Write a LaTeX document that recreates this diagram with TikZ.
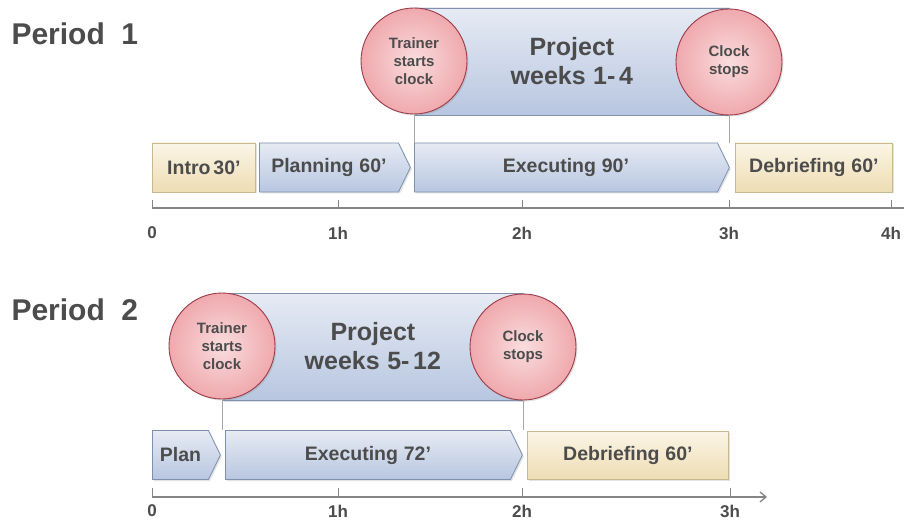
\documentclass[tikz,border=0pt]{standalone}
\usepackage{fontspec}
\setmainfont{Liberation Sans}
\usetikzlibrary{shapes.symbols,arrows.meta,shadows}
\definecolor{txt}{HTML}{4C4C4C}
\definecolor{bluetop}{HTML}{E6EBF4}
\definecolor{bluebot}{HTML}{B8C6E0}
\definecolor{blueedge}{HTML}{7F90AF}
\definecolor{beigetop}{HTML}{FBF5E6}
\definecolor{beigebot}{HTML}{EEDDB4}
\definecolor{beigeedge}{HTML}{C8B88E}
\definecolor{redouter}{HTML}{EFA9AE}
\definecolor{redinner}{HTML}{FADCDD}
\definecolor{rededge}{HTML}{9E3A46}
\definecolor{axisc}{HTML}{858585}
\definecolor{linec}{HTML}{A8A8A8}
\tikzset{
  shad/.style={drop shadow={opacity=0.22, shadow xshift=1.5pt, shadow yshift=-1.5pt}},
  boxtext/.style={text=txt, font=\bfseries\fontsize{19.5}{23}\selectfont},
  bluebox/.style={shape=rectangle, draw=blueedge, line width=0.8pt, top color=bluetop, bottom color=bluebot, inner sep=0pt, shad, boxtext},
  beigebox/.style={shape=rectangle, draw=beigeedge, line width=0.8pt, top color=beigetop, bottom color=beigebot, inner sep=0pt, minimum height=49, shad, boxtext},
  bluechev/.style={shape=signal, signal to=east, signal from=nowhere, signal pointer angle=128, draw=blueedge, line width=0.8pt, top color=bluetop, bottom color=bluebot, inner sep=0pt, minimum height=49, shad, boxtext},
  projbox/.style={bluebox, minimum height=107, align=center, font=\bfseries\fontsize{25}{29}\selectfont},
  clock/.style={circle, draw=rededge, line width=0.9pt, inner color=redinner, outer color=redouter, minimum size=106, inner sep=0pt, align=center, text=txt, font=\bfseries\fontsize{15}{18}\selectfont, shad},
  title/.style={text=txt, font=\bfseries\fontsize{30}{36}\selectfont, anchor=west},
  axlab/.style={text=txt, font=\bfseries\fontsize{17}{20}\selectfont},
  axline/.style={draw=axisc, line width=1.3pt},
  tick/.style={draw=axisc, line width=0.9pt},
  guide/.style={draw=linec, line width=0.9pt}
}
\begin{document}
\begin{tikzpicture}[x=1pt,y=-1pt]
\fill[white] (0,0) rectangle (904,521);
\useasboundingbox (0,0) rectangle (904,521);

% ---------- Period 1 ----------
\node[title] (p1) at (8,33.5) {Period\hspace{0.55em}1};

\node[projbox, minimum width=315, anchor=west] (proj1) at (414,61.5) {Project\\weeks\hspace{0.3em}1-\hspace{0.15em}4};

\node[beigebox, minimum width=103, anchor=west] (intro1) at (152,167.5) {Intro\hspace{0.15em}30’};
\node[bluechev, minimum width=151, anchor=west] (plan1) at (259,167.5) {Planning\hspace{0.3em}60’};
\node[bluechev, minimum width=315, anchor=west] (exec1) at (414,167.5) {Executing\hspace{0.3em}90’};
\node[beigebox, minimum width=157, anchor=west] (deb1) at (735,167.5) {Debriefing\hspace{0.3em}60’};

\node[clock] (start1) at (414,61) {Trainer\\starts\\clock};
\node[clock] (stop1) at (729,62) {Clock\\stops};

\draw[guide] (start1.south) -- (start1.south |- exec1.north);
\draw[guide] (stop1.south) -- (stop1.south |- exec1.north);

\coordinate (a1s) at (152,208);
\coordinate (a1e) at (916,208);
\draw[axline, -{Straight Barb[length=6pt,width=10pt]}] (a1s) -- (a1e);
\foreach \x/\l/\n in {152/0/a, 338/1h/b, 522/2h/c, 729/3h/d, 891/4h/e}{
  \draw[tick] (\x,200) -- (\x,208);
  \node[axlab] (l1\n) at (\x,233) {\l};
}

% ---------- Period 2 ----------
\node[title] (p2) at (8,310) {Period\hspace{0.55em}2};

\node[projbox, minimum width=301, anchor=west] (proj2) at (222,346.5) {Project\\weeks\hspace{0.3em}5-\hspace{0.15em}12};

\node[bluechev, minimum width=68, anchor=west] (plan2) at (152,455) {Plan};
\node[bluechev, minimum width=297, anchor=west] (exec2) at (225,455) {Executing\hspace{0.3em}72’};
\node[beigebox, minimum width=201, minimum height=48, anchor=west] (deb2) at (527,455.5) {Debriefing\hspace{0.3em}60’};

\node[clock] (start2) at (222,346) {Trainer\\starts\\clock};
\node[clock] (stop2) at (523,347) {Clock\\stops};

\draw[guide] (start2.south) -- (start2.south |- exec2.north);
\draw[guide] (stop2.south) -- (stop2.south |- exec2.north);

\coordinate (a2s) at (152,497);
\coordinate (a2e) at (767,497);
\draw[axline, -{Straight Barb[length=6pt,width=10pt]}] (a2s) -- (a2e);
\foreach \x/\l/\n in {152/0/a, 338/1h/b, 522/2h/c, 730/3h/d}{
  \draw[tick] (\x,488) -- (\x,497);
  \node[axlab] (l2\n) at (\x,511) {\l};
}
\end{tikzpicture}
\end{document}
